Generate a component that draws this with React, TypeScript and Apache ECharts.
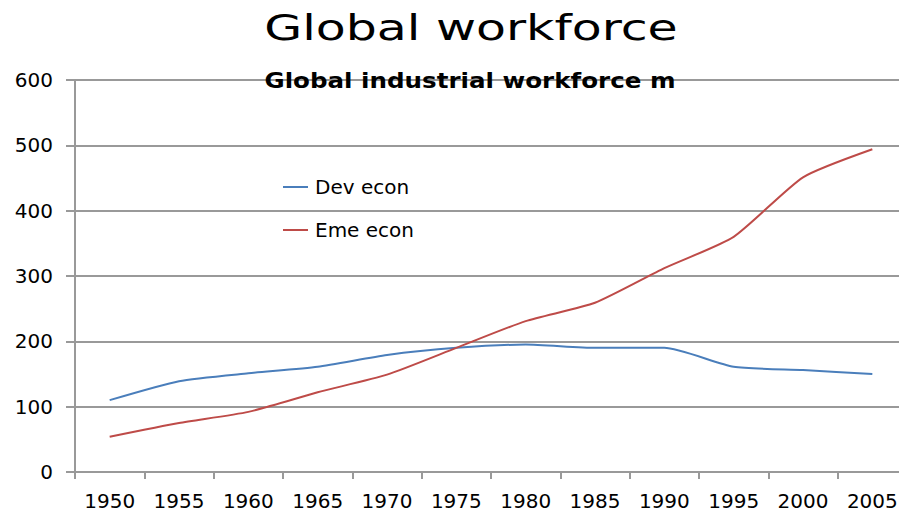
import React, { useEffect, useRef } from "react";
import * as echarts from "echarts";

const years = ["1950", "1955", "1960", "1965", "1970", "1975", "1980", "1985", "1990", "1995", "2000", "2005"];
const devEcon = [110, 139, 151, 161, 179, 190, 195, 190, 190, 161, 156, 150];
const emeEcon = [54, 75, 92, 122, 149, 190, 231, 259, 312, 360, 451, 494];
const yTicks = [0, 100, 200, 300, 400, 500, 600];
const titleText = "Global workforce";
const subtitleText = "Global industrial workforce m";

export default function App() {
  const ref = useRef<HTMLDivElement>(null);
  useEffect(() => {
    if (!ref.current) return;
    const chart = echarts.init(ref.current, null, { renderer: "svg" });
    const font = "'DejaVu Sans', Verdana, sans-serif";
    chart.setOption({
      animation: false,
      backgroundColor: "#ffffff",
      textStyle: { fontFamily: font },
      graphic: [
        {
          type: "text",
          x: 471,
          y: 27,
          scaleX: 1.36,
          style: {
            text: titleText,
            fontSize: 36,
            fontFamily: font,
            fill: "#000000",
            textAlign: "center",
            textVerticalAlign: "middle",
          },
        },
        {
          type: "text",
          x: 470,
          y: 81,
          z: 10,
          scaleX: 1.17,
          style: {
            text: subtitleText,
            fontSize: 21,
            fontWeight: "bold",
            fontFamily: font,
            fill: "#000000",
            textAlign: "center",
            textVerticalAlign: "middle",
          },
        },
      ],
      legend: {
        orient: "vertical",
        left: 283,
        top: 177,
        padding: 0,
        itemGap: 23,
        itemWidth: 25,
        itemHeight: 2,
        icon: "rect",
        textStyle: { fontSize: 20, color: "#000000", fontFamily: font, padding: [0, 0, 0, 2] },
        data: ["Dev econ", "Eme econ"],
      },
      grid: {
        left: 75,
        right: -8,
        top: 80,
        bottom: 41,
        containLabel: false,
        outerBoundsMode: "none",
      },
      xAxis: {
        type: "category",
        data: years,
        boundaryGap: true,
        axisLine: { lineStyle: { color: "#999999", width: 2 } },
        axisTick: { show: true, length: 7, lineStyle: { color: "#999999", width: 2 } },
        axisLabel: { fontSize: 20, color: "#000000", margin: 19, fontFamily: font, interval: 0 },
        splitLine: { show: false },
      },
      yAxis: {
        type: "value",
        min: 0,
        max: 600,
        interval: 100,
        axisLine: { show: true, lineStyle: { color: "#999999", width: 2 } },
        axisTick: { show: true, length: 9, lineStyle: { color: "#999999", width: 2 } },
        axisLabel: {
          fontSize: 20,
          color: "#000000",
          margin: 22,
          fontFamily: font,
          formatter: (v: number) => (yTicks.includes(v) ? String(v) : ""),
        },
        splitLine: { show: true, lineStyle: { color: "#999999", width: 2 } },
      },
      series: [
        {
          name: "Dev econ",
          type: "line",
          data: devEcon,
          symbol: "none",
          smooth: 0.2,
          lineStyle: { color: "#4a7ebb", width: 2 },
          itemStyle: { color: "#4a7ebb" },
        },
        {
          name: "Eme econ",
          type: "line",
          data: emeEcon,
          symbol: "none",
          smooth: 0.2,
          lineStyle: { color: "#be4b48", width: 2 },
          itemStyle: { color: "#be4b48" },
        },
      ],
    });
    return () => chart.dispose();
  }, []);
  return <div ref={ref} style={{ width: 899, height: 513, position: "fixed", left: 0, top: 0 }} />;
}
